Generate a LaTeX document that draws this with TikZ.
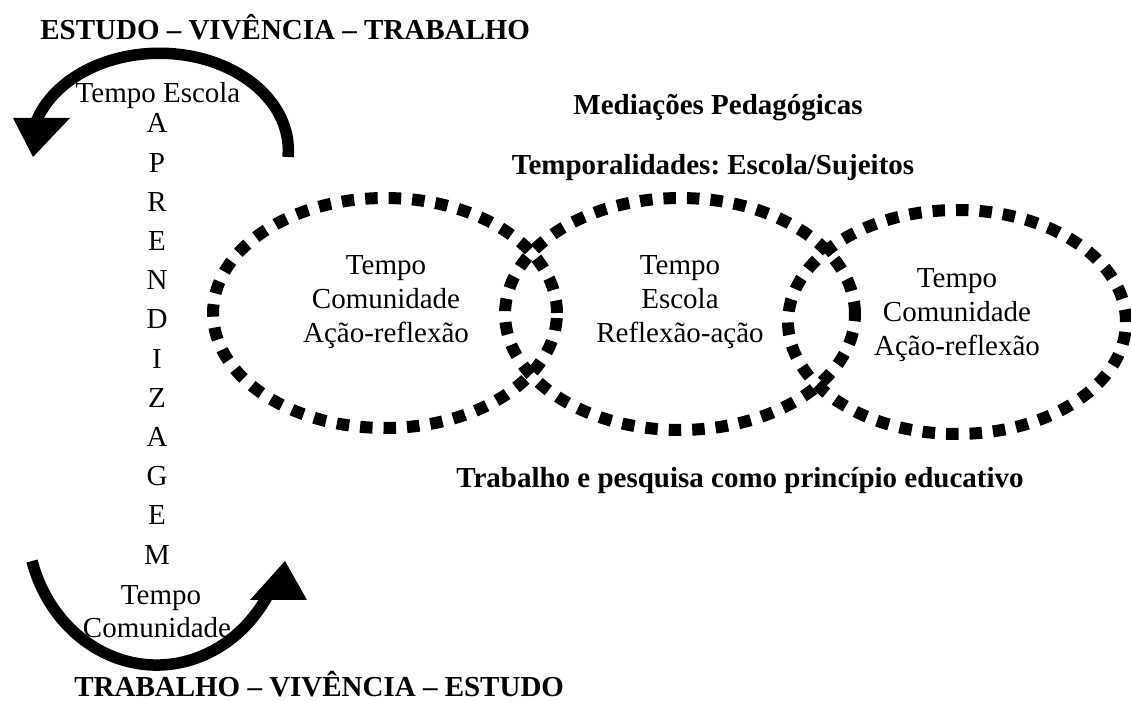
\documentclass[tikz,border=0pt]{standalone}
\usepackage{fontspec}
\setmainfont{Liberation Serif}
\usetikzlibrary{positioning}
\frenchspacing

\begin{document}
\begin{tikzpicture}[
		x=0.02cm, y=0.02cm,
		every node/.style={inner sep=0pt, font=\fontsize{16.5pt}{19.4pt}\selectfont},
		heading/.style={font=\fontsize{16.5pt}{19.4pt}\selectfont\bfseries},
		ringtext/.style={align=center, anchor=north},
		dotring/.style={line width=0.24cm, dash pattern=on 0.25cm off 0.22cm},
		bigarrow/.style={line width=0.23cm}
	]
	\useasboundingbox (0,0) rectangle (1131,702);

	% titles
	\node[heading, anchor=base west] (topline) at (40,662) {ESTUDO -- VIVÊNCIA -- TRABALHO};
	\node[heading, anchor=base west] (botline) at (74,5) {TRABALHO -- VIVÊNCIA -- ESTUDO};
	\node[heading, anchor=base] (mediac) at (718,587) {Mediações Pedagógicas};
	\node[heading, anchor=base] (tempor) at (713,527) {Temporalidades: Escola/Sujeitos};
	\node[heading, anchor=base] (princ) at (740,214) {Trabalho e pesquisa como princípio educativo};

	% left column
	\node[anchor=base] (tesc) at (158,599) {Tempo Escola};
	\foreach \ch [count=\i from 0] in {A,P,R,E,N,D,I,Z,A,G,E,M}
		\node[anchor=base] (ap\i) at (157,{569-39.2*\i}) {\ch};
	\node[anchor=base] (tcom1) at (161,97) {Tempo};
	\node[anchor=base] (tcom2) at (157,64) {Comunidade};

	% curved arrows
	\coordinate (escTail) at (288,545);
	\draw[bigarrow] (escTail) arc[start angle=-4, end angle=163, x radius=2.58cm, y radius=1.94cm];
	\fill (13,584) -- (70,584) -- (33,545) -- cycle;

	\coordinate (comTail) at (32,141);
	\draw[bigarrow] (comTail) arc[start angle=196.4, end angle=330, x radius=2.6cm, y radius=2.9cm];
	\fill (250,102) -- (307,102) -- (285,141) -- cycle;

	% dotted rings
	\draw[dotring] (385,389) ellipse[x radius=3.44cm, y radius=2.3cm];
	\draw[dotring] (680,388) ellipse[x radius=3.5cm, y radius=2.32cm];
	\draw[dotring] (957,380) ellipse[x radius=3.38cm, y radius=2.24cm];

	\node[ringtext] (ring1) at (386,447) {Tempo\\Comunidade\\Ação-reflexão};
	\node[ringtext] (ring2) at (680,447) {Tempo\\Escola\\Reflexão-ação};
	\node[ringtext] (ring3) at (957,434) {Tempo\\Comunidade\\Ação-reflexão};

\end{tikzpicture}
\end{document}
